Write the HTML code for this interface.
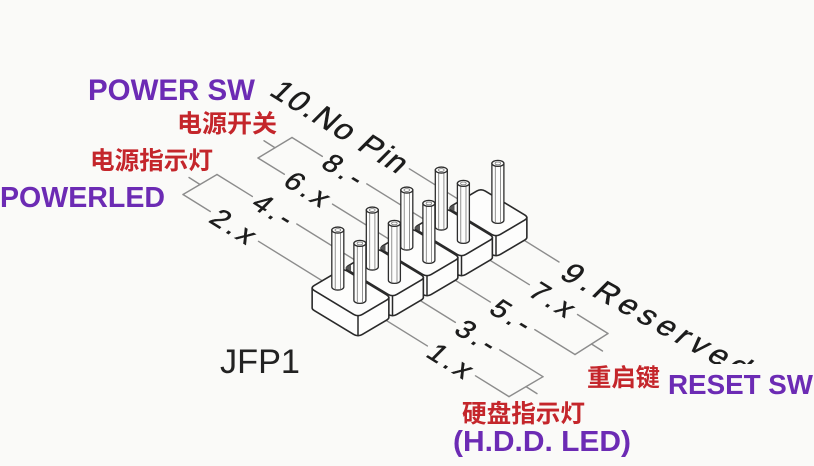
<!DOCTYPE html>
<html>
<head>
<meta charset="utf-8">
<style>
  html,body{margin:0;padding:0;background:#fafaf8;}
  body{width:814px;height:466px;overflow:hidden;}
  svg{display:block;}
  .ln{stroke:#8c8c8c;stroke-width:1.4;fill:none;stroke-linecap:round;}
  .side{fill:#fdfdfc;stroke:#2a2a2a;stroke-width:1.6;stroke-linejoin:round;}
  .top{fill:#fdfdfc;stroke:#2a2a2a;stroke-width:1.6;stroke-linejoin:round;}
  .edge{stroke:#2a2a2a;stroke-width:1.5;}
  .pb{fill:#fdfdfc;stroke:#2e2e2e;stroke-width:1.3;}
  .pi{fill:none;stroke:#777;stroke-width:0.8;}
  .lbl{font-family:"Liberation Sans",sans-serif;fill:#1c1c1c;stroke:#1c1c1c;stroke-width:0.5;}
  .jfp{font-family:"Liberation Sans",sans-serif;fill:#222;}
  .pur{font-family:"Liberation Sans",sans-serif;font-weight:bold;fill:#6c2bb4;}
  .red{font-family:"Liberation Sans","Noto Sans CJK SC",sans-serif;font-weight:bold;fill:#c4262b;}
</style>
</head>
<body>
<svg width="814" height="466" viewBox="0 0 814 466" xmlns="http://www.w3.org/2000/svg">
  <defs>
    <g id="blk">
      <path class="side" d="M2.145,0 L2.145,20 Q2.14,21.3 4.28,22.59 L43.72,46.41 Q48,49 52.3,46.46 L76.7,32.04 Q78.85,30.77 78.86,29.49 L78.86,9.49 L40,-10 Z"/>
      <path class="top" d="M4.28,2.59 L43.72,26.41 Q48,29 52.3,26.46 L76.7,12.04 Q81,9.5 76.72,6.91 L37.28,-16.91 Q33,-19.5 28.7,-16.96 L4.3,-2.54 Q0,0 4.28,2.59 Z"/>
      <line class="edge" x1="48" y1="27.72" x2="48" y2="47.72"/>
    </g>
    <g id="pin">
      <path class="pb" d="M-6,-57 L-6,0 A6,3 0 0 0 6,0 L6,-57 Z"/>
      <line class="pi" x1="-2.6" y1="-55" x2="-2.6" y2="2.6"/>
      <line class="pi" x1="2.6" y1="-55" x2="2.6" y2="2.6"/>
      <ellipse class="pb" cx="0" cy="-57" rx="6" ry="3"/>
      <ellipse class="pi" cx="0" cy="-57" rx="2.8" ry="1.4"/>
    </g>
  </defs>

  <!-- leader lines -->
  <g class="ln">
    <line x1="183" y1="194.5" x2="210.3" y2="211.5"/>
    <line x1="258.5" y1="241.3" x2="427.35" y2="345.96"/>
    <line x1="475.5" y1="375.8" x2="509" y2="396.6"/>
    <line x1="217" y1="174.5" x2="252.35" y2="196.46"/>
    <line x1="296.8" y1="224" x2="455.35" y2="322.36"/>
    <line x1="499.8" y1="349.9" x2="543" y2="376.7"/>
    <line x1="258" y1="158" x2="284.35" y2="174.26"/>
    <line x1="332.5" y1="204.1" x2="490.35" y2="302.06"/>
    <line x1="534.8" y1="329.6" x2="575" y2="354.5"/>
    <line x1="292" y1="137.5" x2="322.35" y2="156.36"/>
    <line x1="366.8" y1="183.9" x2="529.35" y2="284.66"/>
    <line x1="577.5" y1="314.5" x2="608" y2="333.5"/>
    <line x1="409.4" y1="168.8" x2="559" y2="262"/>
    <line x1="183" y1="194.5" x2="217" y2="174.5"/>
    <line x1="258" y1="158" x2="292" y2="137.5"/>
    <line x1="509" y1="396.6" x2="543" y2="376.7"/>
    <line x1="575" y1="354.5" x2="608" y2="333.5"/>
    <line x1="200" y1="184.5" x2="189" y2="177.5"/>
    <line x1="275" y1="147.75" x2="264" y2="140.75"/>
    <line x1="526" y1="386.65" x2="537" y2="393.65"/>
    <line x1="591.5" y1="344" x2="602.5" y2="351"/>
  </g>

  <!-- connector blocks, back to front -->
  <use href="#blk" x="448" y="208"/>
  <use href="#pin" x="497.89" y="220.39"/>

  <use href="#blk" x="413.5" y="228"/>
  <use href="#pin" x="441.31" y="227.05"/>
  <use href="#pin" x="463.39" y="240.39"/>

  <use href="#blk" x="379" y="248"/>
  <use href="#pin" x="406.81" y="247.05"/>
  <use href="#pin" x="428.89" y="260.39"/>

  <use href="#blk" x="344.5" y="268"/>
  <use href="#pin" x="372.31" y="267.05"/>
  <use href="#pin" x="394.39" y="280.39"/>

  <use href="#blk" x="310" y="288"/>
  <use href="#pin" x="337.81" y="287.05"/>
  <use href="#pin" x="359.89" y="300.39"/>

  <!-- junction shadows -->
  <g fill="#555">
    <polygon points="345,268 351,264.5 351,271.5"/>
    <polygon points="379.5,248 385.5,244.5 385.5,251.5"/>
    <polygon points="414,228 420,224.5 420,231.5"/>
    <polygon points="448.5,208 454.5,204.5 454.5,211.5"/>
  </g>

  <!-- pin labels (isometric) -->
  <g class="lbl" font-size="28" style="letter-spacing:4px">
    <text transform="matrix(0.850 0.527 -0.707 0.707 207.5 221.2)">2.x</text>
    <text transform="matrix(0.850 0.527 -0.707 0.707 249.5 206.2)">4.-</text>
    <text transform="matrix(0.850 0.527 -0.707 0.707 281.5 184.0)">6.x</text>
    <text transform="matrix(0.850 0.527 -0.707 0.707 319.5 166.1)">8.-</text>
    <text transform="matrix(0.850 0.527 -0.707 0.707 424.5 355.7)">1.x</text>
    <text transform="matrix(0.850 0.527 -0.707 0.707 452.5 332.1)">3.-</text>
    <text transform="matrix(0.850 0.527 -0.707 0.707 487.5 311.8)">5.-</text>
    <text transform="matrix(0.850 0.527 -0.707 0.707 526.5 294.4)">7.x</text>
  </g>
  <text class="lbl" font-size="31" style="letter-spacing:2px" transform="matrix(0.850 0.527 -0.707 0.707 268 94)">10.No Pin</text>
  <text class="lbl" font-size="31" style="letter-spacing:5.5px" transform="matrix(0.875 0.485 -0.707 0.707 558 277)">9.Reserved</text>

  <!-- cover behind RESET SW -->
  <rect x="662" y="364" width="152" height="40" fill="#fafaf8"/>

  <!-- JFP1 -->
  <text class="jfp" x="220" y="373" font-size="34" textLength="80" lengthAdjust="spacingAndGlyphs">JFP1</text>

  <!-- purple labels -->
  <text class="pur" x="88" y="100" font-size="29.5" textLength="167" lengthAdjust="spacingAndGlyphs">POWER SW</text>
  <text class="pur" x="0" y="207" font-size="29" textLength="165" lengthAdjust="spacingAndGlyphs">POWERLED</text>
  <text class="pur" x="668" y="394" font-size="28" textLength="145" lengthAdjust="spacingAndGlyphs">RESET SW</text>
  <text class="pur" x="453" y="451" font-size="29" textLength="178" lengthAdjust="spacingAndGlyphs">(H.D.D. LED)</text>

  <!-- red CJK labels -->
  <text class="red" x="177" y="132" font-size="24.5" textLength="100" lengthAdjust="spacingAndGlyphs">电源开关</text>
  <text class="red" x="90" y="169" font-size="24.5" textLength="123" lengthAdjust="spacingAndGlyphs">电源指示灯</text>
  <text class="red" x="587" y="386" font-size="24.5" textLength="73" lengthAdjust="spacingAndGlyphs">重启键</text>
  <text class="red" x="462" y="422" font-size="24.5" textLength="123" lengthAdjust="spacingAndGlyphs">硬盘指示灯</text>
</svg>
</body>
</html>
